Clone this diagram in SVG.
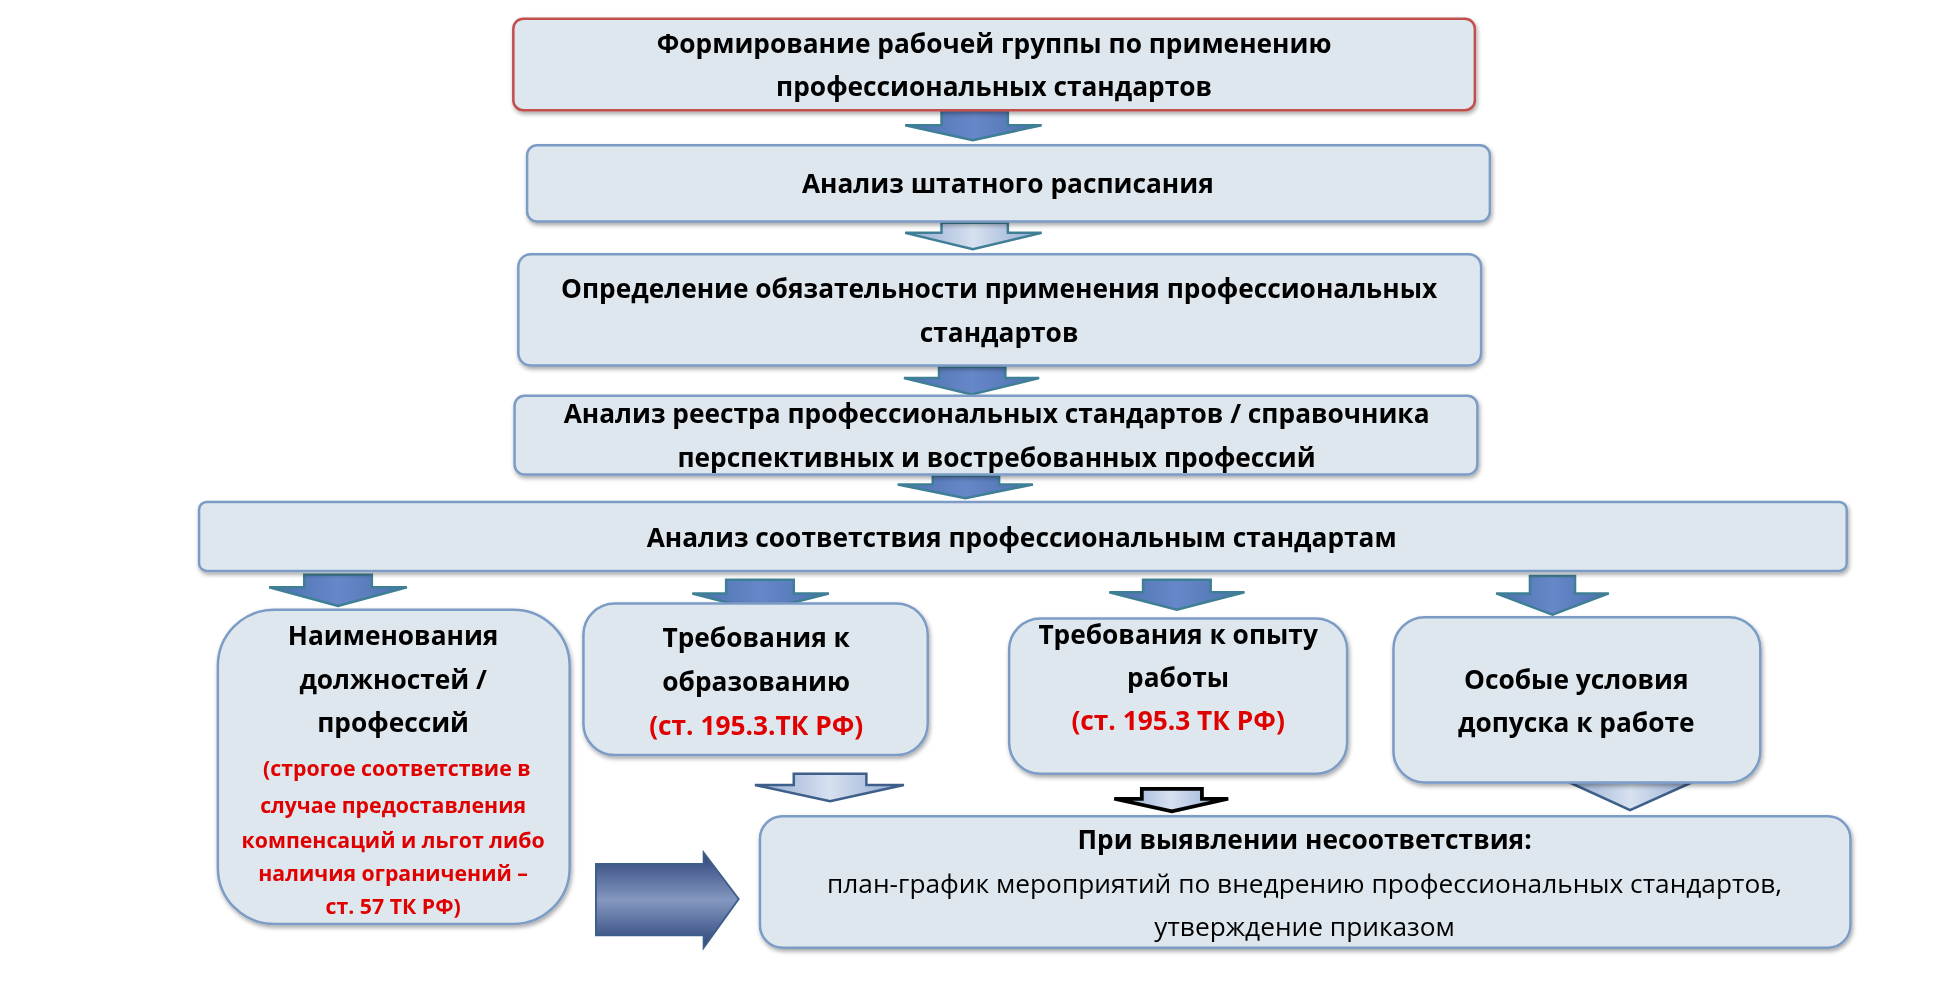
<svg xmlns="http://www.w3.org/2000/svg" width="1953" height="987" viewBox="0 0 1953 987">
<style>
.b{fill:#dfe7ee;stroke:#7b9cc6;stroke-width:2}
.t{font-family:"Open Sans","Noto Sans",sans-serif;font-weight:bold;font-size:21px;text-anchor:middle;fill:#000}
.n{font-weight:normal}
.r{fill:#e00000}
.s{font-size:17px}
.a{fill:url(#g);stroke:#3f7f95;stroke-width:2}
</style>
<defs>
<linearGradient id="g" x1="0" y1="0" x2="1" y2="0"><stop offset="0" stop-color="#4a6fae"/><stop offset="0.5" stop-color="#6788c8"/><stop offset="1" stop-color="#4a6fae"/></linearGradient>
<linearGradient id="g2" x1="0" y1="0" x2="1" y2="0"><stop offset="0" stop-color="#8ea6cf"/><stop offset="0.5" stop-color="#d7e1f0"/><stop offset="1" stop-color="#8ea6cf"/></linearGradient>
<linearGradient id="g3" x1="0" y1="0" x2="0" y2="1"><stop offset="0" stop-color="#2d4478"/><stop offset="0.5" stop-color="#8497c0"/><stop offset="1" stop-color="#2d4478"/></linearGradient>
<filter id="sh"><feDropShadow dx="1" dy="2" stdDeviation="1.5" flood-opacity="0.35"/></filter>
</defs>
<rect width="1953" height="987" fill="#fff"/>
<g transform="scale(1.252)">
<g id="connectors">
<path class="a" d="M752,88H805V100H832L777,112L723,100H752Z"/>
<path class="a" style="fill:url(#g2)" d="M752,178H805V186H832L777,199L723,186H752Z"/>
<path class="a" d="M750,293H803V302H830L776,315L722,302H750Z"/>
<path class="a" d="M745,380H798V387H825L771,398L717,387H745Z"/>
<path class="a" d="M243,459H297V469H325L270,484L215,469H243Z"/>
<path class="a" d="M580,463H634V474H662L607,488L553,474H580Z"/>
<path class="a" d="M913,463H967V473H994L940,487L886,473H913Z"/>
<path class="a" d="M1222,460H1258V474H1285L1240,491L1195,474H1222Z"/>
<path class="a" style="fill:url(#g2);stroke:#3d5f8a" d="M634,618H692V627H722L663,640L603,627H634Z"/>
<path style="fill:url(#g2);stroke:#000;stroke-width:3" d="M912,630H960V638H981L936,648L890,638H912Z"/>
<path class="a" style="fill:url(#g2);stroke:#3d5f8a" d="M1278,605H1327V621H1360L1302,647L1245,621H1278Z"/>
<path style="fill:url(#g3);stroke:#3d5f8a;stroke-width:1.5" d="M476,690H562V681L590,718L562,757V747H476Z"/>
</g>
<g id="n1" filter="url(#sh)"><rect class="b" style="stroke:#c0504d" x="410" y="15" width="768" height="73" rx="8"/><text class="t" x="794" y="42">Формирование рабочей группы по применению</text><text class="t" x="794" y="77">профессиональных стандартов</text></g>
<g id="n2" filter="url(#sh)"><rect class="b" x="421" y="116" width="769" height="61" rx="8"/><text class="t" x="805" y="154">Анализ штатного расписания</text></g>
<g id="n3" filter="url(#sh)"><rect class="b" x="414" y="203" width="769" height="89" rx="10"/><text class="t" x="798" y="238">Определение обязательности применения профессиональных</text><text class="t" x="798" y="273">стандартов</text></g>
<g id="n4" filter="url(#sh)"><rect class="b" x="411" y="316" width="769" height="63" rx="8"/><text class="t" x="796" y="338">Анализ реестра профессиональных стандартов / справочника</text><text class="t" x="796" y="373">перспективных и востребованных профессий</text></g>
<g id="n5" filter="url(#sh)"><rect class="b" x="159" y="401" width="1316" height="55" rx="6"/><text class="t" x="816" y="437">Анализ соответствия профессиональным стандартам</text></g>
<g id="n6" filter="url(#sh)"><rect class="b" x="174" y="487" width="281" height="251" rx="45"/>
<text class="t" x="314" y="515">Наименования</text><text class="t" x="314" y="550">должностей /</text><text class="t" x="314" y="585">профессий</text>
<text class="t r s" x="317" y="620">(строгое соответствие  в</text><text class="t r s" x="314" y="649">случае предоставления</text><text class="t r s" x="314" y="677">компенсаций и льгот либо</text><text class="t r s" x="314" y="704">наличия ограничений –</text><text class="t r s" x="314" y="730">ст. 57 ТК РФ)</text></g>
<g id="n7" filter="url(#sh)"><rect class="b" x="466" y="482" width="275" height="121" rx="25"/><text class="t" x="604" y="517">Требования к</text><text class="t" x="604" y="552">образованию</text><text class="t r" x="604" y="587">(ст. 195.3.ТК РФ)</text></g>
<g id="n8" filter="url(#sh)"><rect class="b" x="806" y="494" width="270" height="124" rx="25"/><text class="t" x="941" y="514">Требования к опыту</text><text class="t" x="941" y="549">работы</text><text class="t r" x="941" y="583">(ст. 195.3 ТК РФ)</text></g>
<g id="n9" filter="url(#sh)"><rect class="b" x="1113" y="493" width="293" height="132" rx="25"/><text class="t" x="1259" y="550">Особые условия</text><text class="t" x="1259" y="585">допуска к работе</text></g>
<g id="n10" filter="url(#sh)"><rect class="b" x="607" y="652" width="871" height="105" rx="18"/><text class="t" x="1042" y="678">При выявлении несоответствия:</text><text class="t n" x="1042" y="713">план-график мероприятий по внедрению профессиональных стандартов,</text><text class="t n" x="1042" y="748">утверждение  приказом</text></g>
</g>
</svg>
